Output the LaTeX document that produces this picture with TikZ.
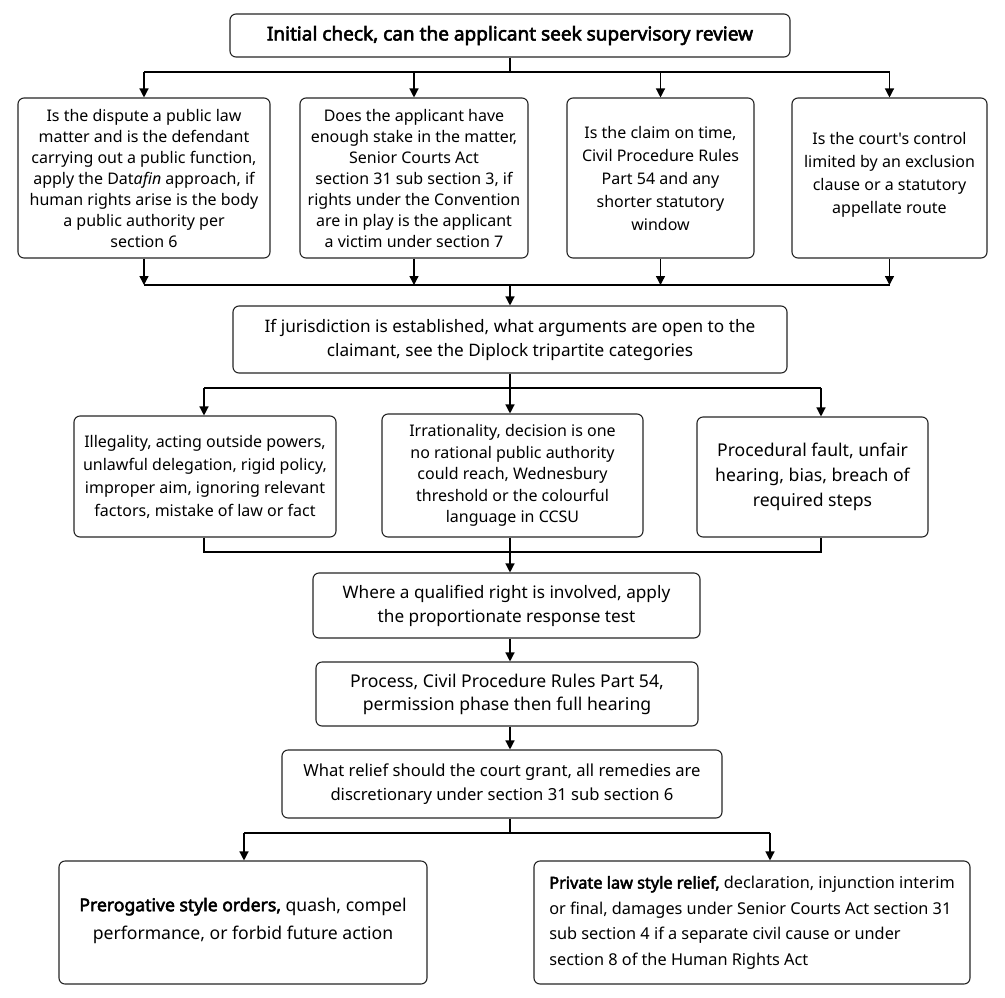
\documentclass[tikz,border=0pt]{standalone}
\usepackage{fontspec}
\setmainfont{Noto Sans}[Ligatures=TeXOff, BoldFont={Noto Sans}, BoldFeatures={FakeBold=3}]
\usetikzlibrary{arrows.meta,calc}
\tikzset{
  box/.style={draw=black!85, line width=1.1pt, rounded corners=6pt, fill=white, align=center, inner sep=2pt},
  conn/.style={line width=1.3pt, draw=black},
  arr/.style={conn, -{Triangle[length=9pt,width=9pt]}},
}
\newcommand{\fs}[2]{\fontsize{#1}{#2}\selectfont}
\begin{document}
\begin{tikzpicture}[x=1pt,y=-1pt]
\useasboundingbox (0,0) rectangle (1005,997);
\fill[white] (0,0) rectangle (1005,997);

\node[box, minimum width=560pt, minimum height=43pt, font=\fs{19}{22}\bfseries] (top) at (510,35.5) {Initial check, can the applicant seek supervisory review};

\node[box, minimum width=252pt, minimum height=160pt, font=\fs{16}{21}] (b1) at (144,178) {Is the dispute a public law\\matter and is the defendant\\carrying out a public function,\\apply the Dat\textit{afin} approach, if\\human rights arise is the body\\a public authority per\\section 6};
\node[box, minimum width=228pt, minimum height=160pt, font=\fs{16}{21}] (b2) at (414,178) {Does the applicant have\\enough stake in the matter,\\Senior Courts Act\\section 31 sub section 3, if\\rights under the Convention\\are in play is the applicant\\a victim under section 7};
\node[box, minimum width=187pt, minimum height=160pt, font=\fs{16}{23}] (b3) at (660.5,178) {Is the claim on time,\\Civil Procedure Rules\\Part 54 and any\\shorter statutory\\window};
\node[box, minimum width=195pt, minimum height=160pt, font=\fs{16}{23}, text depth=10pt] (b4) at (889.5,178) {Is the court's control\\limited by an exclusion\\clause or a statutory\\appellate route};

\coordinate (s1) at (510,72);
\coordinate (bus1) at (510,285);

\node[box, minimum width=554pt, minimum height=67pt, font=\fs{17.2}{24}] (jur) at (510,339.5) {If jurisdiction is established, what arguments are open to the\\claimant, see the Diplock tripartite categories};

\node[box, minimum width=262pt, minimum height=121pt, font=\fs{16}{23}] (A) at (205,476.5) {Illegality, acting outside powers,\\unlawful delegation, rigid policy,\\improper aim, ignoring relevant\\factors, mistake of law or fact};
\node[box, minimum width=261pt, minimum height=123pt, font=\fs{16}{21.5}] (B) at (512.5,475.5) {Irrationality, decision is one\\no rational public authority\\could reach, Wednesbury\\threshold or the colourful\\language in CCSU};
\node[box, minimum width=231pt, minimum height=120pt, font=\fs{17.6}{25}] (C) at (812.5,477) {Procedural fault, unfair\\hearing, bias, breach of\\required steps};

\coordinate (s2) at (510,388);
\coordinate (j1) at (204,388);
\coordinate (j3) at (821,388);
\coordinate (m1) at (204,552);
\coordinate (m3) at (821,552);

\node[box, minimum width=387pt, minimum height=65pt, font=\fs{17.2}{24}] (Q) at (506.5,605.5) {Where a qualified right is involved, apply\\the proportionate response test};
\node[box, minimum width=382pt, minimum height=64pt, font=\fs{17.6}{23}] (P) at (507,694) {Process, Civil Procedure Rules Part 54,\\permission phase then full hearing};
\node[box, minimum width=440pt, minimum height=68pt, font=\fs{16.6}{24}] (R) at (502,784) {What relief should the court grant, all remedies are\\discretionary under section 31 sub section 6};

\coordinate (s3) at (510,833);
\coordinate (k1) at (244,833);
\coordinate (k2) at (770,833);

\node[box, minimum width=368pt, minimum height=123pt, font=\fs{17.6}{28}, text depth=8pt] (L) at (243,922.5) {\textbf{Prerogative style orders,} quash, compel\\performance, or forbid future action};
\node[box, minimum width=436pt, minimum height=123pt, font=\fs{16.3}{25.5}, align=left] (Rt) at (752,922.5) {\textbf{Private law style relief,} declaration, injunction interim\\or final, damages under Senior Courts Act section 31\\sub section 4 if a separate civil cause or under\\section 8 of the Human Rights Act};

% top fan-out
\draw[conn] (top.south -| s1) -- (s1);
\draw[conn] (b1.north |- s1) -- (b4.north |- s1);
\foreach \n in {b1,b2,b3,b4} \draw[arr] (\n.north |- s1) -- (\n.north);
% fan-in
\foreach \n in {b1,b2,b3,b4} \draw[arr] (\n.south) -- (\n.south |- bus1);
\draw[conn] (b1.south |- bus1) -- (b4.south |- bus1);
\draw[arr] (bus1) -- (jur.north -| bus1);
% jurisdiction fan-out
\draw[conn] (jur.south -| s2) -- (s2);
\draw[conn] (j1) -- (j3);
\draw[arr] (j1) -- (j1 |- A.north);
\draw[arr] (s2) -- (s2 |- B.north);
\draw[arr] (j3) -- (j3 |- C.north);
% fan-in
\draw[conn] (j1 |- A.south) -- (m1) -- (m3) -- (j3 |- C.south);
\draw[arr] (B.south -| s2) -- (Q.north -| s2);
\draw[arr] (Q.south -| s2) -- (P.north -| s2);
\draw[arr] (P.south -| s2) -- (R.north -| s2);
% relief fan-out
\draw[conn] (R.south -| s3) -- (s3);
\draw[conn] (k1) -- (k2);
\draw[arr] (k1) -- (k1 |- L.north);
\draw[arr] (k2) -- (k2 |- Rt.north);
\end{tikzpicture}
\end{document}
